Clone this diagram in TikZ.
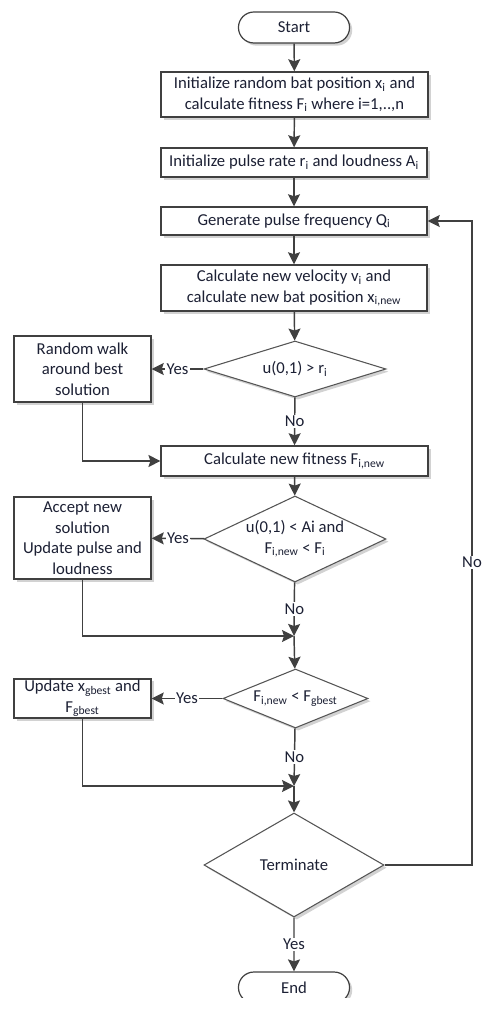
\documentclass[tikz,border=0pt]{standalone}
\usepackage{fontspec}
\setmainfont{Carlito}
\usetikzlibrary{shapes.geometric,shapes.misc,arrows.meta,shadows}
\definecolor{lncol}{RGB}{64,64,64}
\definecolor{dmcol}{RGB}{85,85,85}
\definecolor{txcol}{RGB}{28,32,52}

\begin{document}
\begin{tikzpicture}[x=0.75pt,y=0.75pt,yscale=-1,xscale=1,
  font=\fontsize{12.5}{15.4}\selectfont,
  shd/.style={drop shadow={shadow xshift=2pt,shadow yshift=-2pt,fill=black!25,opacity=0.7}},
  procbox/.style={draw=lncol,line width=1.1pt,fill=white,shd,text=txcol,align=center,inner sep=1pt},
  decbox/.style={diamond,draw=dmcol,line width=0.8pt,fill=white,shd,text=txcol,align=center,inner sep=0pt},
  termbox/.style={rounded rectangle,draw=lncol,line width=0.9pt,fill=white,shd,text=txcol,minimum width=90pt,minimum height=23.25pt},
  lbl/.style={fill=white,inner sep=1pt,text=txcol},
  line/.style={draw=lncol,line width=1.1pt,-{Stealth[width=9pt,length=9pt,inset=1.5pt]}}]

\useasboundingbox (0,0) rectangle (500,1009);
\begin{scope}
\clip (0,0) rectangle (500,997);

% Terminal nodes
\node [termbox] (start) at (294,27.5) {Start};
\node [termbox] (end) at (294,987.5) {End};

% Process nodes
\node [procbox,minimum width=200pt,minimum height=33.75pt] (init) at (294.5,94.5) {Initialize random bat position x\textsubscript{i} and\\calculate fitness F\textsubscript{i} where i=1,..,n};
\node [procbox,minimum width=199.5pt,minimum height=21.75pt] (pulse) at (294,162.5) {Initialize pulse rate r\textsubscript{i} and loudness A\textsubscript{i}};
\node [procbox,minimum width=199.5pt,minimum height=21pt] (gen) at (294,221) {Generate pulse frequency Q\textsubscript{i}};
\node [procbox,minimum width=199.5pt,minimum height=34.5pt] (vel) at (294,288) {Calculate new velocity v\textsubscript{i} and\\calculate new bat position x\textsubscript{i,new}};
\node [procbox,minimum width=200pt,minimum height=22.5pt] (fit) at (294.5,461) {Calculate new fitness F\textsubscript{i,new}};
\node [procbox,minimum width=102.75pt,minimum height=49.5pt] (walk) at (82.5,369) {Random walk\\around best\\solution};
\node [procbox,minimum width=102.75pt,minimum height=61.5pt] (accept) at (82.5,538) {Accept new\\solution\\Update pulse and\\loudness};
\node [procbox,minimum width=102.75pt,minimum height=29.25pt] (upd) at (82.5,698.5) {Update x\textsubscript{gbest} and\\F\textsubscript{gbest}};

% Decision nodes
\node [decbox,minimum width=136.5pt,minimum height=42pt,shape aspect=3.2] (dec1) at (295,369) {u(0,1) > r\textsubscript{i}};
\node [decbox,minimum width=136.5pt,minimum height=64.5pt,shape aspect=2.1] (dec2) at (295,539) {u(0,1) < Ai and\\F\textsubscript{i,new} < F\textsubscript{i}};
\node [decbox,minimum width=108.75pt,minimum height=44.25pt,shape aspect=2.45] (dec3) at (295.5,698.5) {F\textsubscript{i,new} < F\textsubscript{gbest}};
\node [decbox,minimum width=135pt,minimum height=78pt,shape aspect=1.73] (term) at (294,865) {Terminate};

% Join points
\coordinate (join1) at (294,636);
\coordinate (join2) at (294,786);
\coordinate (fb) at (472,221);

% Connectors
\draw [line] (start) -- (init);
\draw [line] (init) -- (pulse);
\draw [line] (pulse) -- (gen);
\draw [line] (gen) -- (vel);
\draw [line] (vel) -- (dec1);
\draw [line] (dec1) -- node [lbl] {Yes} (walk);
\draw [line] (dec1) -- node [lbl] {No} (fit);
\draw [line] (walk.south) |- (fit.west);
\draw [line] (fit) -- (dec2);
\draw [line] (dec2) -- node [lbl] {Yes} (accept);
\draw [line] (dec2) -- node [lbl] {No} (join1);
\draw [line] (accept.south) |- (join1);
\draw [line] (join1) -- (dec3);
\draw [line] (dec3) -- node [lbl] {Yes} (upd);
\draw [line] (dec3) -- node [lbl] {No} (join2);
\draw [line] (upd.south) |- (join2);
\draw [line] (join2) -- (term);
\draw [line] (term) -- node [lbl] {Yes} (end);
\draw [line] (term.east) -- (term.east -| fb) -- node [lbl,pos=0.47] {No} (fb) -- (gen.east);
\end{scope}

\end{tikzpicture}
\end{document}
